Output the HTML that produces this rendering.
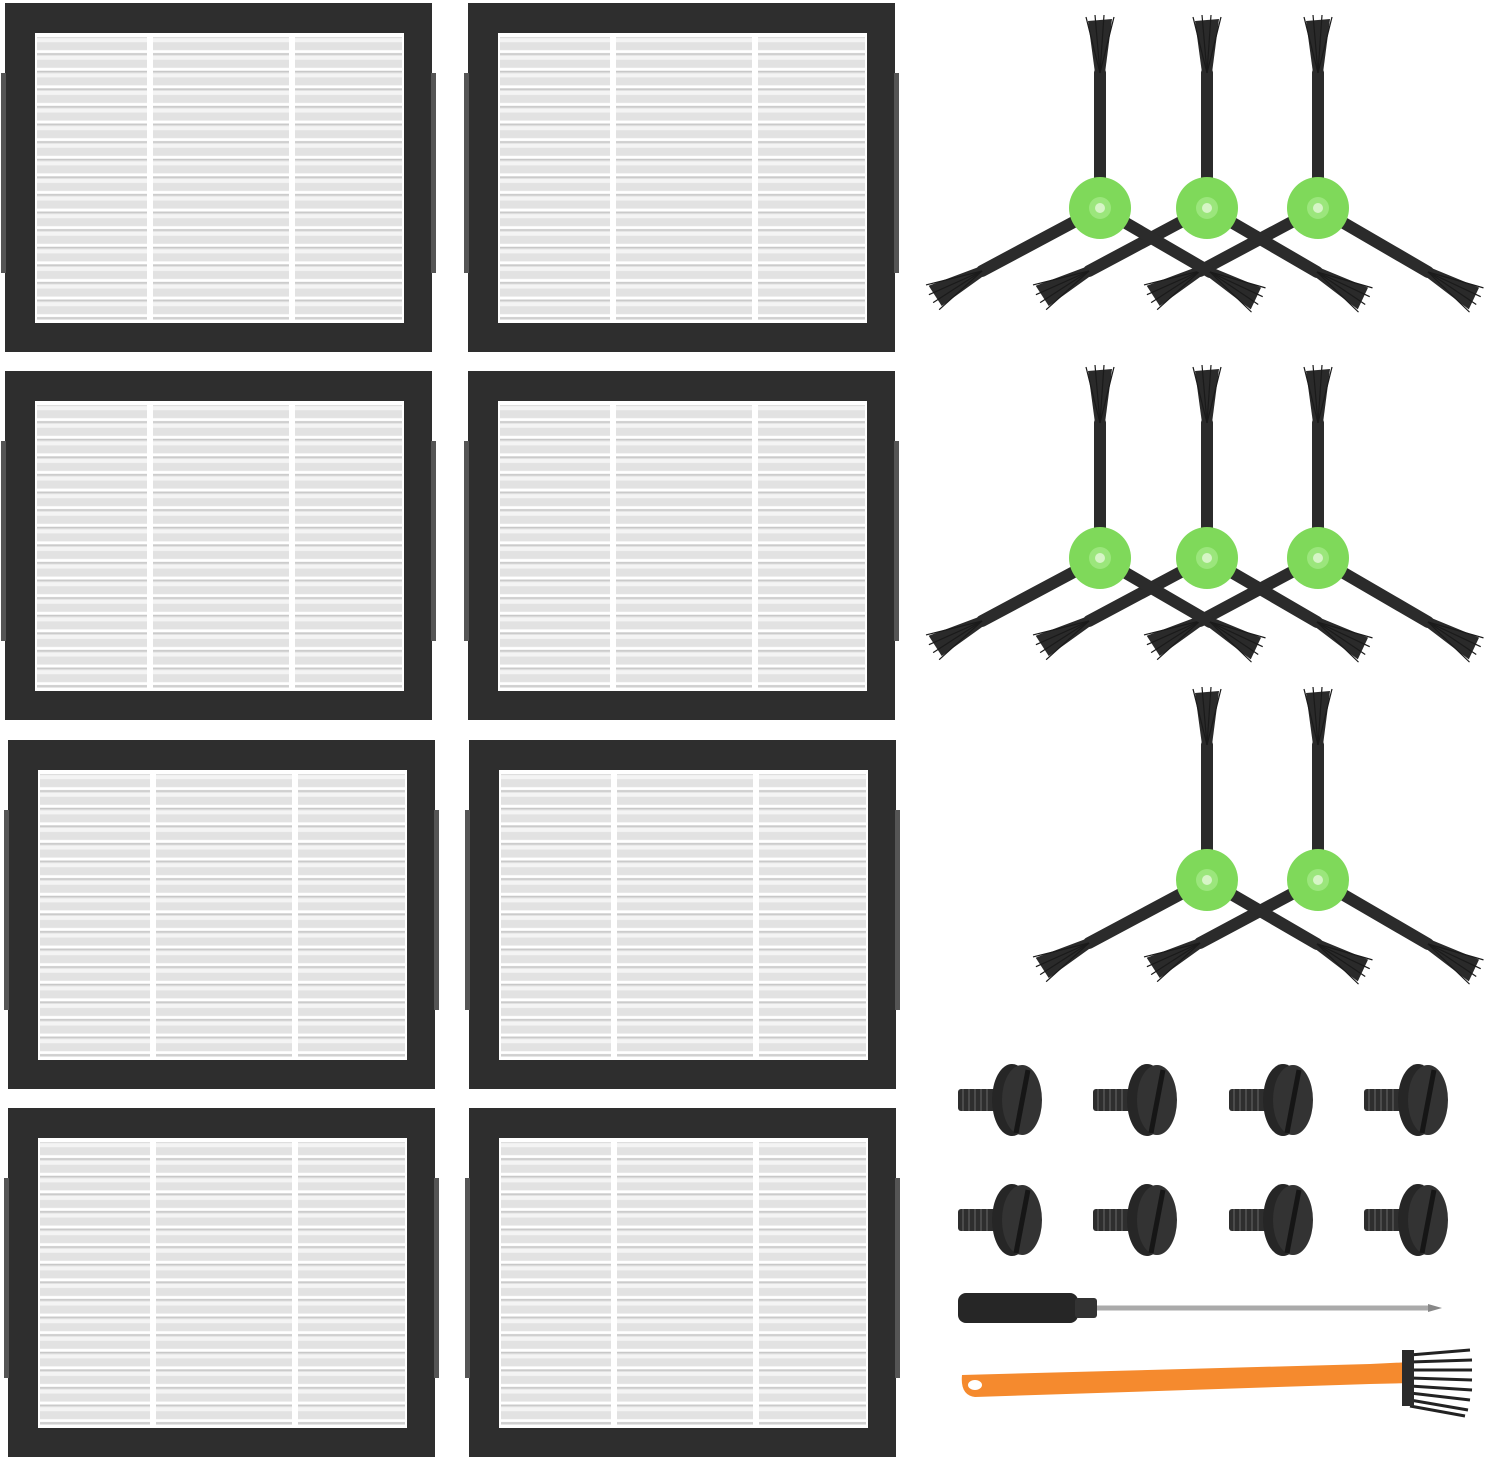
<!DOCTYPE html>
<html><head><meta charset="utf-8"><style>html,body{margin:0;padding:0;background:#fff}svg{display:block}</style></head>
<body>
<svg width="1500" height="1483" viewBox="0 0 1500 1483" xmlns="http://www.w3.org/2000/svg">
<defs>
<pattern id="pl" x="0" y="0" width="10" height="17.6" patternUnits="userSpaceOnUse">
<rect width="10" height="17.6" fill="#e2e2e2"/>
<rect y="0" width="10" height="4" fill="#f4f4f4"/>
<rect y="12" width="10" height="3" fill="#ffffff"/>
<rect y="15" width="10" height="1.5" fill="#c8c8c8"/>
</pattern>
<g id="filter">
<rect x="0" y="0" width="427" height="349" fill="#2e2e2e"/>
<rect x="-4" y="70" width="5" height="200" fill="#555"/>
<rect x="426" y="70" width="5" height="200" fill="#555"/>
<rect x="30" y="30" width="369" height="290" fill="#fff"/>
<rect x="32" y="34" width="365" height="283" fill="url(#pl)"/>
<rect x="142" y="32" width="6" height="288" fill="#fff"/>
<rect x="284" y="32" width="6" height="288" fill="#fff"/>
</g>
<g id="tuft">
<path d="M0 -5 L52 -12 L54 12 L0 5 Z" fill="#2a2a2a"/>
<g stroke="#1a1a1a" stroke-width="1.2"><line x1="0" y1="0" x2="56" y2="-14"/><line x1="0" y1="0" x2="58" y2="-5"/><line x1="0" y1="0" x2="58" y2="4"/><line x1="0" y1="0" x2="56" y2="14"/></g>
</g>
<g id="brush">
<g stroke="#2b2b2b" stroke-linecap="round">
<line x1="0" y1="0" x2="0" y2="-135" stroke-width="12"/>
<line x1="0" y1="0" x2="-118" y2="63" stroke-width="12"/>
<line x1="0" y1="0" x2="110" y2="64" stroke-width="12"/>
</g>
<use href="#tuft" transform="translate(0,-135) rotate(-90)"/>
<use href="#tuft" transform="translate(-118,63) rotate(152)"/>
<use href="#tuft" transform="translate(110,64) rotate(30)"/>
<circle cx="0" cy="0" r="31" fill="#7fd95a"/>
<circle cx="0" cy="0" r="11" fill="#9be67c"/>
<circle cx="0" cy="0" r="5" fill="#d6f5c6"/>
</g>
<g id="screw">
<rect x="-60" y="-11" width="38" height="22" fill="#2e2e2e" rx="3"/>
<g stroke="#555" stroke-width="1.5"><line x1="-55" y1="-11" x2="-55" y2="11"/><line x1="-49" y1="-11" x2="-49" y2="11"/><line x1="-43" y1="-11" x2="-43" y2="11"/><line x1="-37" y1="-11" x2="-37" y2="11"/><line x1="-31" y1="-11" x2="-31" y2="11"/></g>
<ellipse cx="-6" cy="0" rx="20" ry="36" fill="#262626"/>
<ellipse cx="4" cy="0" rx="20" ry="35" fill="#333"/>
<line x1="10" y1="-30" x2="-2" y2="33" stroke="#161616" stroke-width="5"/>
</g>
</defs>
<use href="#filter" x="5" y="3"/>
<use href="#filter" x="468" y="3"/>
<use href="#filter" x="5" y="371"/>
<use href="#filter" x="468" y="371"/>
<use href="#filter" x="8" y="740"/>
<use href="#filter" x="469" y="740"/>
<use href="#filter" x="8" y="1108"/>
<use href="#filter" x="469" y="1108"/>
<use href="#brush" x="1318" y="208"/>
<use href="#brush" x="1207" y="208"/>
<use href="#brush" x="1100" y="208"/>
<use href="#brush" x="1318" y="558"/>
<use href="#brush" x="1207" y="558"/>
<use href="#brush" x="1100" y="558"/>
<use href="#brush" x="1318" y="880"/>
<use href="#brush" x="1207" y="880"/>
<use href="#screw" x="1018" y="1100"/>
<use href="#screw" x="1153" y="1100"/>
<use href="#screw" x="1289" y="1100"/>
<use href="#screw" x="1424" y="1100"/>
<use href="#screw" x="1018" y="1220"/>
<use href="#screw" x="1153" y="1220"/>
<use href="#screw" x="1289" y="1220"/>
<use href="#screw" x="1424" y="1220"/>
<line x1="1095" y1="1308" x2="1430" y2="1308" stroke="#aaa" stroke-width="5"/>
<path d="M1428 1304 L1442 1308 L1428 1312Z" fill="#888"/>
<rect x="958" y="1293" width="120" height="30" rx="8" fill="#262626"/>
<rect x="1075" y="1298" width="22" height="20" rx="3" fill="#333"/>
<path d="M962 1375 Q960 1395 975 1397 L1370 1384 L1412 1383 L1412 1362 L1370 1364 Z" fill="#f58a2e"/>
<ellipse cx="975" cy="1385" rx="7" ry="5" fill="#fff"/>
<g stroke="#222" stroke-width="3">
<line x1="1410" y1="1355" x2="1470" y2="1350"/><line x1="1410" y1="1362" x2="1472" y2="1360"/><line x1="1410" y1="1370" x2="1472" y2="1370"/><line x1="1410" y1="1378" x2="1472" y2="1380"/><line x1="1410" y1="1386" x2="1472" y2="1390"/><line x1="1410" y1="1393" x2="1470" y2="1400"/><line x1="1410" y1="1400" x2="1468" y2="1410"/><line x1="1410" y1="1406" x2="1465" y2="1416"/>
</g>
<rect x="1402" y="1350" width="12" height="56" fill="#2b2b2b"/>
</svg>
</body></html>
